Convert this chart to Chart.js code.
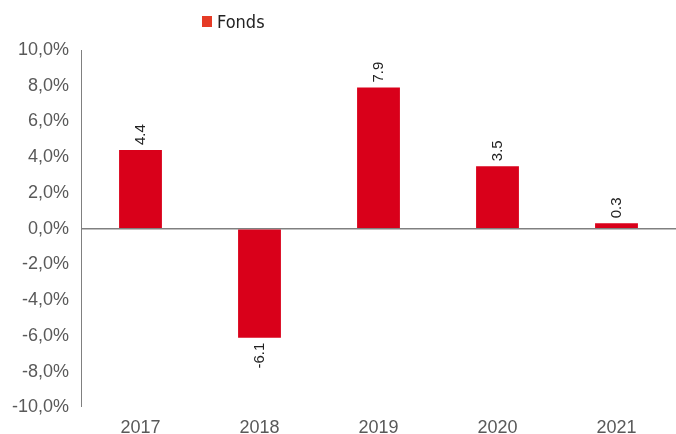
<!DOCTYPE html>
<html>
<head>
<meta charset="utf-8">
<script src="https://cdn.jsdelivr.net/npm/chart.js@4.4.0/dist/chart.umd.min.js"></script>
<style>
  html, body { margin: 0; padding: 0; background: #fff; }
  #wrap { position: relative; width: 676px; height: 434px; overflow: hidden; }
  #chart { position: absolute; left: 0; top: 0; }
  .legend { position: absolute; left: 202px; top: 11px; display: flex; align-items: center;
            font-family: "Liberation Sans Narrow", "DejaVu Sans Condensed", "Liberation Sans", sans-serif;
            font-size: 18px; color: #222; }
  .legend i { display: inline-block; width: 10px; height: 11px; background: #e53b26; margin-right: 5px; }
</style>
</head>
<body>
<div id="wrap">
  <canvas id="chart" width="676" height="449"></canvas>
  <div class="legend"><i></i><span>Fonds</span></div>
</div>
<script>
// Daten
const years = ['2017', '2018', '2019', '2020', '2021'];
const fonds = [4.4, -6.1, 7.9, 3.5, 0.3];
const yTicks = [-10, -8, -6, -4, -2, 0, 2, 4, 6, 8, 10];

const BAR_COLOR = '#d9001a';
const GREY = '#808080';

// Werte an den Balken (gedreht)
const valueLabels = {
    id: 'valueLabels',
    afterDatasetsDraw(chart) {
        const ctx = chart.ctx;
        const meta = chart.getDatasetMeta(0);
        ctx.save();
        ctx.font = '15px "Liberation Sans", Arial, sans-serif';
        ctx.fillStyle = '#222';
        ctx.textBaseline = 'middle';
        meta.data.forEach((bar, i) => {
            const v = fonds[i];
            ctx.save();
            if (v >= 0) {
                ctx.translate(bar.x, bar.y - 5);
                ctx.rotate(-Math.PI / 2);
                ctx.textAlign = 'left';
            } else {
                ctx.translate(bar.x, bar.y + 5);
                ctx.rotate(-Math.PI / 2);
                ctx.textAlign = 'right';
            }
            ctx.fillText(v.toFixed(1), 0, 0);
            ctx.restore();
        });
        ctx.restore();
    }
};

new Chart(document.getElementById('chart'), {
    type: 'bar',
    data: {
        labels: years,
        datasets: [{
            label: 'Fonds',
            data: fonds,
            backgroundColor: BAR_COLOR,
            categoryPercentage: 1,
            barPercentage: 0.36
        }]
    },
    options: {
        responsive: false,
        animation: false,
        layout: { padding: { top: 50, right: 0, bottom: 0, left: 0 } },
        plugins: { legend: { display: false }, tooltip: { enabled: false } },
        scales: {
            x: {
                grid: { display: false, drawTicks: false },
                border: { display: false },
                ticks: {
                    color: '#595959',
                    padding: 10,
                    font: { family: '"Liberation Sans", Arial, sans-serif', size: 18 }
                }
            },
            y: {
                min: -10,
                max: 10,
                afterBuildTicks(axis) { axis.ticks = yTicks.map(v => ({ value: v })); },
                afterFit(axis) { axis.width = 81; },
                grid: {
                    drawTicks: false,
                    color: c => c.tick && c.tick.value === 0 ? GREY : 'rgba(0,0,0,0)',
                    lineWidth: c => c.tick && c.tick.value === 0 ? 1.5 : 0
                },
                border: { display: true, color: GREY, width: 1 },
                ticks: {
                    color: '#595959',
                    padding: 12,
                    font: { family: '"Liberation Sans", Arial, sans-serif', size: 18 },
                    callback: v => v.toFixed(1).replace('.', ',') + '%'
                }
            }
        }
    },
    plugins: [valueLabels]
});
</script>
</body>
</html>
